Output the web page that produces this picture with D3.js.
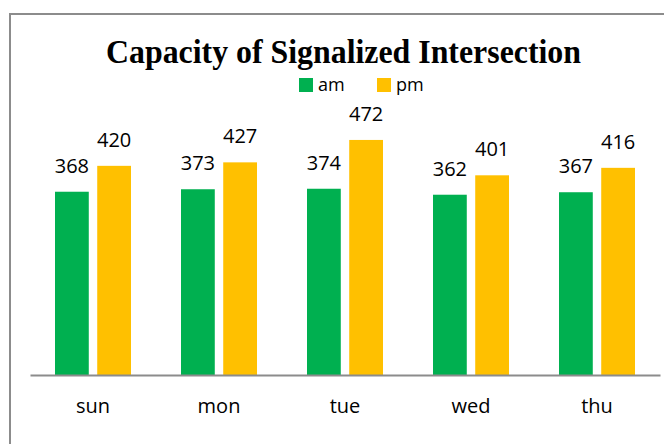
<!DOCTYPE html>
<html><head><meta charset="utf-8">
<script src="https://cdn.jsdelivr.net/npm/d3@7"></script>
<style>body{margin:0;background:#fff;}svg{display:block;}</style>
</head><body>
<svg id="c" width="664" height="444"></svg>
<script>
const categories = ["sun", "mon", "tue", "wed", "thu"];
const seriesNames = ["am", "pm"];
const amValues = [368, 373, 374, 362, 367];
const pmValues = [420, 427, 472, 401, 416];
const colors = ["#00B050", "#FFC000"];
const title = "Capacity of Signalized Intersection";

const svg = d3.select("#c");
// frame
svg.append("rect").attr("x", 10).attr("y", 14).attr("width", 700).attr("height", 500)
  .attr("fill", "#fff").attr("stroke", "#8c8c8c").attr("stroke-width", 2);

const x0 = d3.scaleBand().domain(categories).range([30, 660]).paddingInner(0).paddingOuter(0);
const x1 = d3.scaleBand().domain(seriesNames).range([25, 101]).paddingInner(0.2);
const y = d3.scaleLinear().domain([0, 500]).range([375, 126]);

const data = categories.map((c, i) => ({cat: c, vals: [amValues[i], pmValues[i]]}));

const g = svg.append("g");
const groups = g.selectAll("g.cat").data(data).join("g")
  .attr("transform", d => `translate(${x0(d.cat)},0)`);
groups.selectAll("rect").data(d => d.vals.map((v, k) => ({s: seriesNames[k], v, k}))).join("rect")
  .attr("x", d => x1(d.s)).attr("width", x1.bandwidth())
  .attr("y", d => y(d.v)).attr("height", d => y(0) - y(d.v))
  .attr("fill", d => colors[d.k]);
groups.selectAll("text").data(d => d.vals.map((v, k) => ({s: seriesNames[k], v, k}))).join("text")
  .attr("x", d => x1(d.s) + x1.bandwidth() / 2).attr("y", d => y(d.v) - 19)
  .attr("text-anchor", "middle").attr("font-family", "Open Sans").attr("font-size", 20)
  .attr("fill", "#000").text(d => d.v);

// x axis
const xAxis = d3.axisBottom(x0).tickSize(0).tickPadding(24);
const ax = svg.append("g").attr("transform", `translate(0,${y(0)})`).call(xAxis);
ax.select(".domain").attr("stroke", "#8c8c8c").attr("stroke-width", 2);
ax.selectAll("text").attr("font-family", "Open Sans").attr("font-size", 20).attr("fill", "#000");

// title
svg.append("text").attr("x", 343.5).attr("y", 63).attr("text-anchor", "middle")
  .attr("font-family", "Liberation Serif").attr("font-weight", "bold").attr("font-size", 33)
  .attr("textLength", 475).attr("lengthAdjust", "spacingAndGlyphs")
  .attr("fill", "#000").text(title);

// legend
const legX = [299, 377];
const leg = svg.append("g");
seriesNames.forEach((s, k) => {
  leg.append("rect").attr("x", legX[k]).attr("y", 78).attr("width", 14).attr("height", 14).attr("fill", colors[k]);
  leg.append("text").attr("x", legX[k] + 19).attr("y", 91).attr("font-family", "Open Sans")
    .attr("font-size", 18).attr("fill", "#000").text(s);
});
</script>
</body></html>
